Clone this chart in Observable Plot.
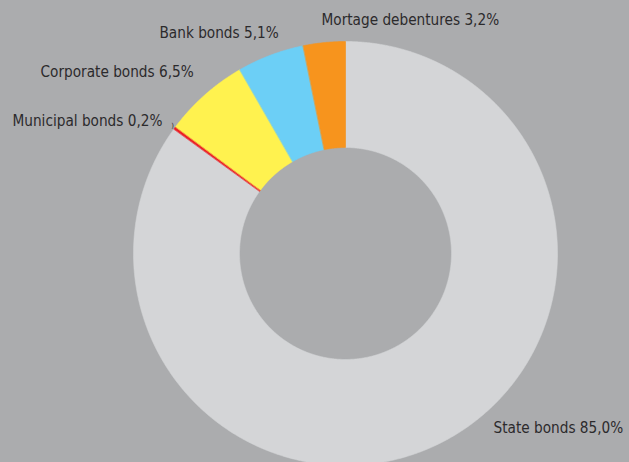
<!DOCTYPE html>
<html>
<head>
<meta charset="utf-8">
<script src="https://cdn.jsdelivr.net/npm/d3@7"></script>
<script src="https://cdn.jsdelivr.net/npm/@observablehq/plot@0.6"></script>
<style>
  html, body { margin: 0; padding: 0; background: #abacae; overflow: hidden; }
  #chart svg { display: block; }
</style>
</head>
<body>
<div id="chart"></div>
<script>
// ---- data ----
const categories = ["State bonds", "Municipal bonds", "Corporate bonds", "Bank bonds", "Mortage debentures"];
const shares = [85.0, 0.2, 6.5, 5.1, 3.2];
const colors = ["#d4d5d7", "#ed1c24", "#fff24f", "#6ccff6", "#f7941d"];

// ---- layout (pixels) ----
const W = 629, H = 462;
const cx = 345, cy = 253, R = 212, r0 = 106;
// label anchor points (left edge, vertical middle) in pixels
const labelPx = {
  "State bonds": [493, 428],
  "Municipal bonds": [12, 120.5],
  "Corporate bonds": [40, 72],
  "Bank bonds": [159, 33],
  "Mortage debentures": [321, 20]
};

// convert pixel to data units (outer radius = 1, y up)
const toX = px => (px - cx) / R;
const toY = py => (cy - py) / R;
const inner = r0 / R;

// ---- build slices through d3.pie ----
const pie = d3.pie().sort(null).value(d => d.share).startAngle(0).endAngle(2 * Math.PI);
const rows = categories.map((c, i) => ({category: c, share: shares[i]}));
const arcs = pie(rows);

const pts = [];
for (const a of arcs) {
  const step = Math.PI / 720;
  const n = Math.max(2, Math.ceil((a.endAngle - a.startAngle) / step));
  const outer = [], inn = [];
  for (let k = 0; k <= n; k++) {
    const t = a.startAngle + (a.endAngle - a.startAngle) * k / n;
    outer.push({category: a.data.category, x: Math.sin(t), y: Math.cos(t)});
    inn.push({category: a.data.category, x: inner * Math.sin(t), y: inner * Math.cos(t)});
  }
  pts.push(...outer, ...inn.reverse());
}

const fmt = v => v.toFixed(1).replace(".", ",") + "%";
const labelRows = rows.map(d => ({
  text: `${d.category} ${fmt(d.share)}`,
  x: toX(labelPx[d.category][0]),
  y: toY(labelPx[d.category][1])
}));

const chart = Plot.plot({
  width: W,
  height: H,
  margin: 0,
  x: {domain: [toX(0), toX(W)], axis: null},
  y: {domain: [toY(H), toY(0)], axis: null},
  color: {domain: categories, range: colors},
  style: {background: "#abacae", color: "#231f20"},
  marks: [
    Plot.line(pts, {x: "x", y: "y", z: "category", fill: "category", stroke: "category", strokeWidth: 0.6, curve: "linear-closed"}),
    Plot.text(labelRows, {
      x: "x", y: "y", text: "text",
      textAnchor: "start", lineAnchor: "middle",
      fontFamily: "DejaVu Sans Condensed, DejaVu Sans", fontSize: 15.2, fill: "#2b2a2c"
    }),
    Plot.text([{x: toX(172), y: toY(125)}], {x: "x", y: "y", text: () => ")", fontSize: 7, fill: "#2b2a2c", fontFamily: "DejaVu Sans"})
  ]
});
document.getElementById("chart").appendChild(chart);
</script>
</body>
</html>
